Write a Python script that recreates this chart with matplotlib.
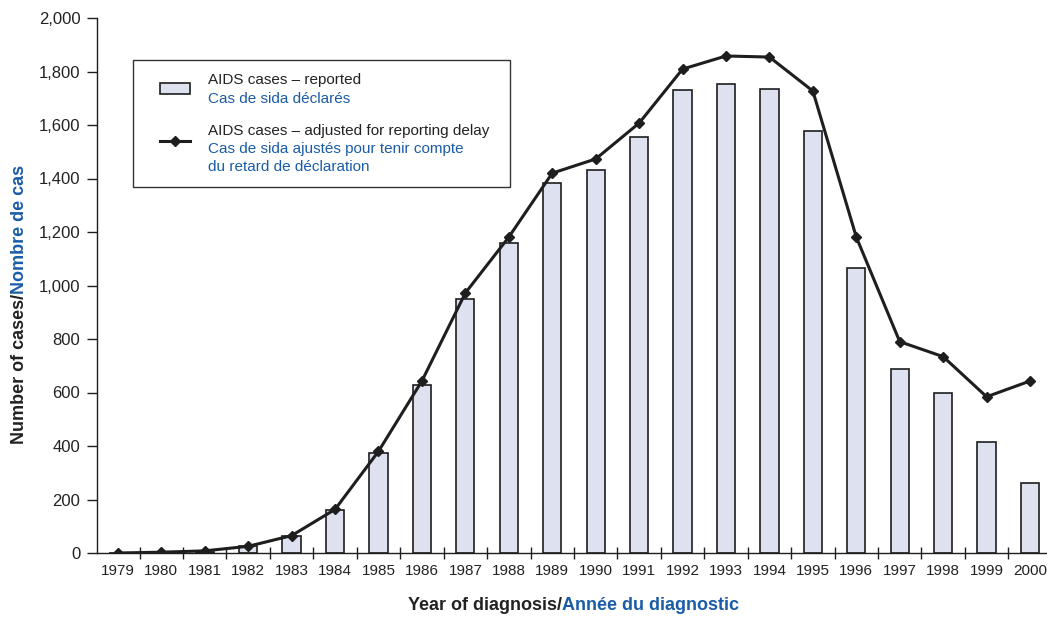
import numpy as np
import matplotlib
matplotlib.use('Agg')
import matplotlib.pyplot as plt
from matplotlib.patches import Rectangle
from matplotlib.lines import Line2D
from matplotlib.ticker import FuncFormatter, FixedLocator

plt.rcParams['font.family'] = ['Liberation Sans', 'DejaVu Sans']

years = list(range(1979, 2001))
reported = [0, 2, 5, 26, 63, 162, 375, 628, 950, 1159, 1383, 1432, 1555,
            1731, 1753, 1734, 1578, 1065, 686, 599, 414, 260]
adjusted = [0, 3, 8, 25, 65, 163, 380, 643, 972, 1181, 1420, 1473, 1607,
            1809, 1858, 1854, 1727, 1181, 790, 734, 584, 643]

BLUE = '#1a5ca8'
DARK = '#1e1e1e'


def two_tone(fig, cx, cy, parts, vertical=False, **kw):
    """Place differently coloured text pieces one after another, centred."""
    W, H = fig.get_size_inches() * fig.dpi
    rot = 90 if vertical else 0
    texts = [fig.text(0, 0, s, color=c, rotation=rot, rotation_mode='anchor',
                      ha='left', va='center', **kw) for s, c in parts]
    fig.canvas.draw()
    r = fig.canvas.get_renderer()
    sizes = [(t.get_window_extent(r).height if vertical else t.get_window_extent(r).width)
             for t in texts]
    start = (H - cy if vertical else cx) - sum(sizes) / 2
    for t, s in zip(texts, sizes):
        if vertical:
            t.set_position((cx / W, start / H))
        else:
            t.set_position((start / W, 1 - cy / H))
        start += s


fig = plt.figure(figsize=(10.47, 6.19), dpi=100)
ax = fig.add_axes([97 / 1047, 1 - 553 / 619, 950 / 1047, 535 / 619])

ax.bar(years, reported, width=0.42, color='#dde1f0', edgecolor=DARK,
       linewidth=1.2, zorder=2)
ax.plot(years, adjusted, color=DARK, linewidth=2.2, marker='D',
        markersize=5.5, zorder=4)

ax.set_xlim(1978.52, 2000.39)
ax.set_ylim(0, 2000)
ax.spines['top'].set_visible(False)
ax.spines['right'].set_visible(False)
for s in ('left', 'bottom'):
    ax.spines[s].set_color(DARK)
    ax.spines[s].set_linewidth(1.0)

ax.set_xticks(years)
ax.set_xticklabels([str(y) for y in years])
ax.xaxis.set_minor_locator(FixedLocator([y + 0.5 for y in years[:-1]]))
ax.tick_params(axis='x', which='major', length=0, pad=8, labelsize=11,
               labelcolor='#222222')
ax.tick_params(axis='x', which='minor', direction='inout', length=9,
               width=1.0, color=DARK)
ax.set_yticks(range(0, 2001, 200))
ax.yaxis.set_major_formatter(FuncFormatter(lambda v, p: f'{int(v):,}'))
ax.tick_params(axis='y', direction='out', length=7, width=1.0, color=DARK,
               labelsize=12, labelcolor='#222222', pad=5)

# legend box
W, H = 1047, 619
fig.patches.append(Rectangle((133 / W, 1 - 187 / H), 377 / W, 127 / H,
                             transform=fig.transFigure, facecolor='white',
                             edgecolor='#333333', linewidth=1.0, zorder=5))
fig.patches.append(Rectangle((160 / W, 1 - 94 / H), 30 / W, 11 / H,
                             transform=fig.transFigure, facecolor='#dde1f0',
                             edgecolor=DARK, linewidth=1.2, zorder=6))
fig.lines.append(Line2D([160 / W, 175 / W, 190 / W],
                        [1 - 141 / H, 1 - 141 / H, 1 - 141 / H],
                        transform=fig.transFigure, color=DARK, linewidth=2.2,
                        marker='D', markersize=5.5, markevery=[1], zorder=6))
legend_rows = [
    (80, 'AIDS cases \u2013 reported', '#222222'),
    (99, 'Cas de sida d\u00e9clar\u00e9s', BLUE),
    (131, 'AIDS cases \u2013 adjusted for reporting delay', '#222222'),
    (149, 'Cas de sida ajust\u00e9s pour tenir compte', BLUE),
    (167, 'du retard de d\u00e9claration', BLUE),
]
for py, txt, col in legend_rows:
    fig.text(208 / W, 1 - py / H, txt, color=col, fontsize=11, ha='left',
             va='center', zorder=8)

two_tone(fig, 573, 606, [('Year of diagnosis/', '#222222'),
                         ('Ann\u00e9e du diagnostic', BLUE)],
         fontsize=13, fontweight='bold')
two_tone(fig, 19, 304, [('Number of cases/', '#222222'),
                        ('Nombre de cas', BLUE)],
         vertical=True, fontsize=13, fontweight='bold')

fig.savefig('out.png', dpi=100)
